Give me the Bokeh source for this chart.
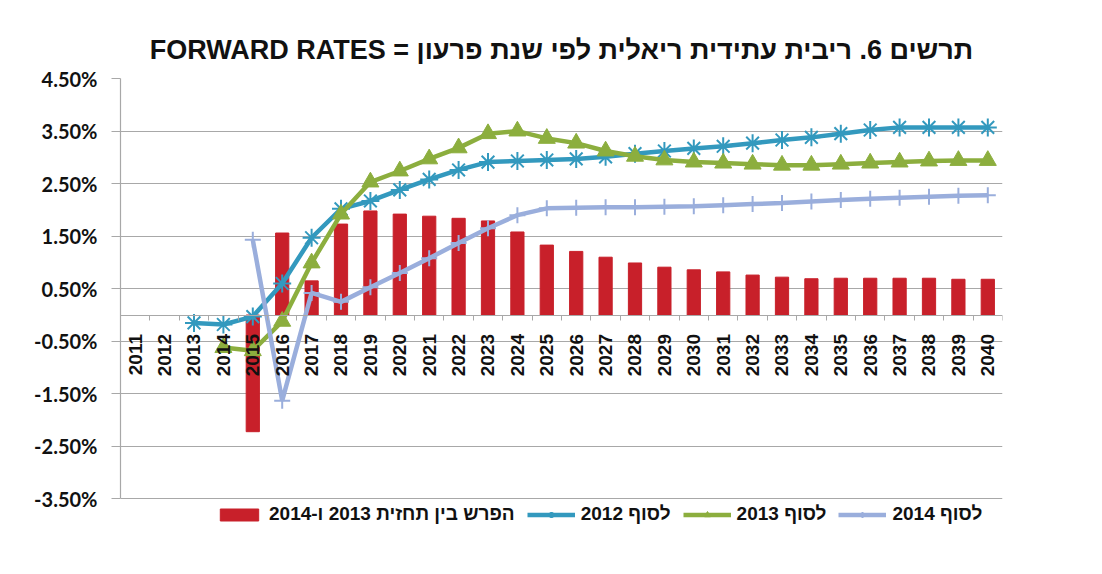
import math
import numpy as np
from bokeh.plotting import figure
from bokeh.models import Range1d, FixedTicker, PrintfTickFormatter, Legend, LegendItem
from bokeh.embed import file_html
from bokeh.resources import INLINE

nan = float("nan")

years = list(range(2011, 2041))

# difference between the 2013 and 2014 forecasts (bars), in %
diff_13_14 = [nan, nan, nan, nan, -2.22, 1.56, 0.65, 1.73, 1.98, 1.92,
              1.88, 1.84, 1.79, 1.58, 1.33, 1.21, 1.10, 0.99, 0.91, 0.86,
              0.82, 0.76, 0.72, 0.69, 0.70, 0.70, 0.70, 0.70, 0.68, 0.68]

# end of 2012 curve
end_2012 = [nan, nan, -0.15, -0.18, -0.03, 0.60, 1.47, 2.02, 2.17, 2.38,
            2.58, 2.76, 2.91, 2.93, 2.95, 2.97, 3.01, 3.07, 3.12, 3.17,
            3.21, 3.27, 3.33, 3.38, 3.45, 3.52, 3.57, 3.57, 3.57, 3.57]

# end of 2013 curve
end_2013 = [nan, nan, nan, -0.62, -0.68, -0.12, 0.99, 1.92, 2.53, 2.74,
            2.97, 3.18, 3.45, 3.50, 3.36, 3.27, 3.12, 3.02, 2.95, 2.91,
            2.89, 2.87, 2.85, 2.85, 2.87, 2.89, 2.91, 2.93, 2.94, 2.94]

# end of 2014 curve
end_2014 = [nan, nan, nan, nan, 1.43, -1.63, 0.42, 0.25, 0.53, 0.80,
            1.08, 1.37, 1.65, 1.90, 2.03, 2.04, 2.05, 2.05, 2.06, 2.07,
            2.09, 2.11, 2.13, 2.16, 2.19, 2.21, 2.23, 2.25, 2.27, 2.28]

y_ticks = [-3.5, -2.5, -1.5, -0.5, 0.5, 1.5, 2.5, 3.5, 4.5]

title_text = "תרשים 6. ריבית עתידית ריאלית לפי שנת פרעון = FORWARD RATES"
label_diff = "הפרש בין תחזית 2013 ו-2014"
label_2012 = "לסוף 2012"
label_2013 = "לסוף 2013"
label_2014 = "לסוף 2014"

RLE, PDF = "\u202B", "\u202C"

def rtl(s):
    return RLE + s + PDF

RED = "#C8202A"
TEAL = "#3399BE"
GREEN = "#8CAE3E"
LBLUE = "#9AAEDC"
GRID = "#A8A8A8"

p = figure(width=1100, height=572, output_backend="svg", toolbar_location=None,
           x_range=Range1d(years[0] - 0.5, years[-1] + 0.5),
           y_range=Range1d(-4.1, y_ticks[-1]),
           title=rtl(title_text),
           min_border_left=120, min_border_right=98,
           min_border_top=78, min_border_bottom=42)

p.outline_line_color = None
p.background_fill_color = "white"
p.border_fill_color = "white"

p.title.align = "center"
p.title.text_font = "Liberation Sans"
p.title.text_font_size = "27px"
p.title.text_font_style = "bold"
p.title.text_color = "#111111"
p.title.standoff = 27

# grid
p.xgrid.grid_line_color = None
p.ygrid.ticker = FixedTicker(ticks=y_ticks)
p.ygrid.grid_line_color = GRID
p.ygrid.grid_line_width = 1.2

# y axis
p.yaxis.ticker = FixedTicker(ticks=y_ticks)
p.yaxis.bounds = (y_ticks[0], y_ticks[-1])
p.yaxis.formatter = PrintfTickFormatter(format="%.2f%%")
p.yaxis.axis_line_color = GRID
p.yaxis.axis_line_width = 1.2
p.yaxis.major_tick_line_color = GRID
p.yaxis.major_tick_out = 9
p.yaxis.major_tick_in = 0
p.yaxis.minor_tick_line_color = None
p.yaxis.major_label_standoff = 14
p.yaxis.major_label_text_font = "Lato"
p.yaxis.major_label_text_font_size = "20px"
p.yaxis.major_label_text_font_style = "bold"
p.yaxis.major_label_text_color = "#111111"

# x axis at zero
bounds = [y - 0.5 for y in years] + [years[-1] + 0.5]
p.xaxis.ticker = FixedTicker(ticks=years, minor_ticks=bounds)
p.xaxis.fixed_location = 0
p.xaxis.axis_line_color = GRID
p.xaxis.axis_line_width = 1.2
p.xaxis.major_tick_out = 0
p.xaxis.major_tick_in = 0
p.xaxis.minor_tick_line_color = GRID
p.xaxis.minor_tick_out = 5
p.xaxis.minor_tick_in = 0
p.xaxis.major_label_orientation = math.pi / 2
p.xaxis.major_label_standoff = 14
p.xaxis.major_label_text_font = "Liberation Sans"
p.xaxis.major_label_text_font_size = "19px"
p.xaxis.major_label_text_font_style = "bold"
p.xaxis.major_label_text_color = "#111111"

# bars
bars = p.vbar(x=years, top=diff_13_14, bottom=0, width=0.45,
              fill_color=RED, line_color=RED)

# lines
l12 = p.line(years, end_2012, line_color=TEAL, line_width=4.5)
s12 = p.scatter(years, end_2012, marker="asterisk", size=18,
                line_color=TEAL, line_width=2)

l13 = p.line(years, end_2013, line_color=GREEN, line_width=4.5)
s13 = p.scatter(years, end_2013, marker="triangle", size=17,
                fill_color=GREEN, line_color=GREEN)

l14 = p.line(years, end_2014, line_color=LBLUE, line_width=4.5)
s14 = p.scatter(years, end_2014, marker="cross", size=16,
                line_color=LBLUE, line_width=2)

legend = Legend(items=[
    LegendItem(label=rtl(label_diff), renderers=[bars]),
    LegendItem(label=rtl(label_2012), renderers=[l12, s12]),
    LegendItem(label=rtl(label_2013), renderers=[l13, s13]),
    LegendItem(label=rtl(label_2014), renderers=[l14, s14]),
], orientation="horizontal", location=(95, 5))
legend.padding = 0
legend.margin = 0
legend.spacing = 12
legend.label_standoff = 6
legend.glyph_width = 48
legend.glyph_height = 15
legend.border_line_color = None
legend.background_fill_alpha = 0
legend.label_text_font = "Liberation Sans"
legend.label_text_font_size = "19px"
legend.label_text_font_style = "bold"
legend.label_text_color = "#111111"
p.add_layout(legend)

open("out.html", "w").write(file_html(p, INLINE))
